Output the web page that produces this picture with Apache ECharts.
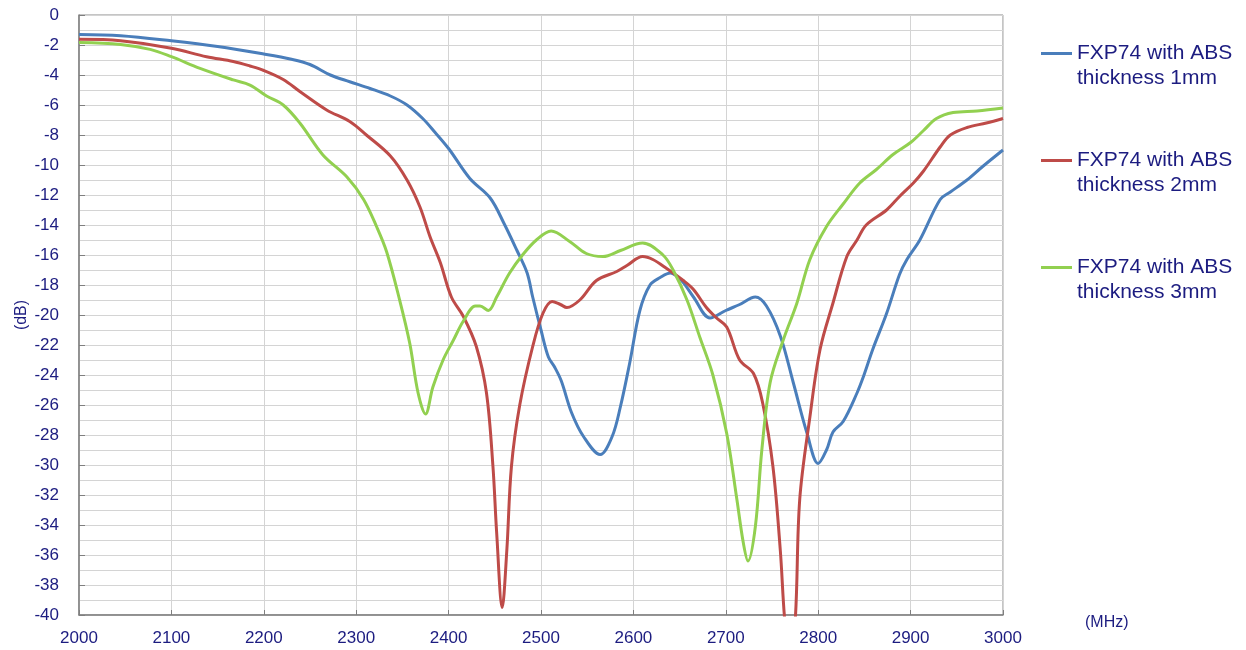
<!DOCTYPE html>
<html>
<head>
<meta charset="utf-8">
<script src="https://cdn.jsdelivr.net/npm/echarts@6/dist/echarts.min.js"></script>
<style>
html,body{margin:0;padding:0;background:#fff;}
#chart{width:1246px;height:650px;}
</style>
</head>
<body>
<div id="chart"></div>
<script>
// ---- Data ----
const seriesNames = [
  "FXP74 with ABS thickness 1mm",
  "FXP74 with ABS thickness 2mm",
  "FXP74 with ABS thickness 3mm"
];
const xTicks = [2000,2100,2200,2300,2400,2500,2600,2700,2800,2900,3000];
const yTicks = [0,-2,-4,-6,-8,-10,-12,-14,-16,-18,-20,-22,-24,-26,-28,-30,-32,-34,-36,-38,-40];

const freq1mm = [2000,2045,2100,2150,2200,2230,2250,2272,2293,2315,2337,2355,2372,2385,2400,2423,2445,2460,2474,2485,2491,2500,2508,2515,2522,2533,2546,2564,2577,2586,2596,2607,2618,2629,2640,2652,2665,2683,2700,2715,2732,2744,2759,2773,2788,2800,2809,2816,2827,2842,2849,2859,2874,2888,2896,2910,2932,2943,2961,2978,3000];
const db1mm   = [-1.3,-1.38,-1.72,-2.1,-2.6,-2.95,-3.3,-4.0,-4.45,-4.9,-5.4,-6.0,-6.9,-7.8,-8.9,-10.9,-12.2,-13.9,-15.7,-17.2,-18.8,-21.0,-22.8,-23.5,-24.4,-26.5,-28.1,-29.3,-28.1,-26.1,-23.2,-19.7,-18.0,-17.5,-17.2,-17.7,-18.8,-20.2,-19.7,-19.3,-18.8,-19.4,-21.4,-24.5,-27.9,-29.9,-29.0,-27.8,-27.1,-25.2,-24.1,-22.3,-19.9,-17.3,-16.3,-15.0,-12.3,-11.8,-11.0,-10.1,-9.0];

const freq2mm = [2000,2045,2100,2138,2167,2185,2200,2221,2239,2268,2293,2311,2337,2355,2369,2380,2391,2403,2416,2430,2441,2448,2452,2458,2463,2468,2477,2491,2502,2512,2521,2528,2542,2560,2582,2593,2610,2621,2636,2654,2665,2679,2690,2701,2715,2730,2740,2751,2759,2764,2769,2775,2780,2791,2802,2816,2831,2842,2852,2874,2888,2903,2914,2932,2943,2961,2982,3000];
const db2mm   = [-1.62,-1.71,-2.22,-2.78,-3.1,-3.4,-3.7,-4.3,-5.1,-6.33,-7.1,-8.0,-9.4,-11.0,-12.8,-14.8,-16.5,-18.8,-20.1,-22.1,-25.2,-30.1,-34.5,-39.5,-35.7,-30.1,-26.0,-22.1,-19.9,-19.1,-19.3,-19.5,-19.0,-17.7,-17.1,-16.7,-16.1,-16.3,-16.9,-17.7,-18.3,-19.5,-20.2,-20.8,-23.0,-23.9,-25.9,-30.1,-35.7,-40.5,-42.5,-40.5,-32.3,-26.8,-22.3,-19.2,-16.1,-15.0,-14.0,-13.0,-12.1,-11.2,-10.4,-8.8,-8.0,-7.5,-7.2,-6.9];

const freq3mm = [2000,2045,2077,2100,2131,2167,2185,2203,2221,2239,2264,2290,2308,2322,2333,2347,2358,2367,2375,2383,2394,2405,2416,2429,2434,2443,2452,2466,2480,2495,2511,2531,2549,2567,2586,2610,2632,2643,2658,2672,2686,2701,2712,2719,2724,2732,2739,2748,2762,2777,2791,2809,2827,2845,2863,2881,2900,2914,2928,2946,2972,3000];
const db3mm   = [-1.84,-1.96,-2.29,-2.78,-3.56,-4.33,-4.67,-5.4,-6.0,-7.2,-9.33,-10.8,-12.3,-14.1,-15.8,-19.0,-21.9,-25.2,-26.6,-24.8,-23.0,-21.7,-20.4,-19.4,-19.4,-19.7,-18.8,-17.2,-16.0,-15.0,-14.4,-15.1,-15.9,-16.1,-15.7,-15.2,-16.0,-17.0,-19.0,-21.5,-24.0,-27.9,-32.3,-35.2,-36.4,-34.1,-29.0,-24.5,-21.7,-19.2,-16.3,-14.1,-12.6,-11.2,-10.3,-9.3,-8.5,-7.7,-6.9,-6.5,-6.4,-6.2];

const colors = ['#4a7ebb', '#be4b48', '#92d050'];
const textColor = '#1c1c80';
const gridColor = '#d4d4d4';

function pairs(xs, ys){ return xs.map((x,i)=>[x, ys[i]]); }

const chart = echarts.init(document.getElementById('chart'));
const allData = [pairs(freq1mm, db1mm), pairs(freq2mm, db2mm), pairs(freq3mm, db3mm)];

chart.setOption({
  animation: false,
  backgroundColor: '#fff',
  textStyle: { fontFamily: 'Liberation Sans, Arial, sans-serif' },
  grid: { left: 79, right: 243, top: 15, bottom: 35, show: true, borderColor: '#8a8a8a', borderWidth: 1, containLabel: false, outerBoundsMode: 'none' },
  legend: {
    orient: 'vertical',
    left: 1036,
    top: 11,
    itemWidth: 31,
    itemHeight: 3,
    itemGap: 32,
    icon: 'rect',
    data: seriesNames,
    formatter: function(name){
      const i = name.indexOf(' thickness');
      return '\n' + name.slice(0, i) + '\n' + name.slice(i + 1);
    },
    textStyle: { color: textColor, fontSize: 21, lineHeight: 25, fontFamily: 'Liberation Sans, Arial, sans-serif' }
  },
  xAxis: {
    type: 'value',
    min: 2000, max: 3000, interval: 100,
    name: '(MHz)',
    nameLocation: 'end',
    nameGap: 82,
    nameTextStyle: { color: textColor, fontSize: 16, verticalAlign: 'top' },
    axisLine: { show: true, onZero: false, lineStyle: { color: '#7f7f7f', width: 1.5 } },
    axisTick: { show: true, inside: true, length: 5, lineStyle: { color: '#7f7f7f' } },
    axisLabel: { color: textColor, fontSize: 17, margin: 15, formatter: v => xTicks.indexOf(v) >= 0 ? String(v) : '' },
    splitLine: { show: true, lineStyle: { color: gridColor, width: 1 } }
  },
  yAxis: {
    type: 'value',
    min: -40, max: 0, interval: 2,
    name: '(dB)',
    nameLocation: 'middle',
    nameGap: 49,
    nameRotate: 90,
    nameMoveOverlap: false,
    nameTextStyle: { color: textColor, fontSize: 16 },
    axisLine: { show: true, onZero: false, lineStyle: { color: '#7f7f7f', width: 1.5 } },
    axisTick: { show: true, inside: true, length: 6, lineStyle: { color: '#7f7f7f' } },
    minorTick: { show: false, splitNumber: 2 },
    minorSplitLine: { show: true, lineStyle: { color: gridColor, width: 1 } },
    axisLabel: { color: textColor, fontSize: 17, margin: 20, formatter: v => yTicks.indexOf(v) >= 0 ? String(v) : '' },
    splitLine: { show: true, lineStyle: { color: gridColor, width: 1 } }
  },
  series: seriesNames.map((n, i) => ({
    name: n,
    type: 'line',
    data: allData[i],
    smooth: 0.35,
    showSymbol: false,
    clip: true,
    color: colors[i],
    lineStyle: { color: colors[i], width: 3 }
  }))
});
</script>
</body>
</html>
